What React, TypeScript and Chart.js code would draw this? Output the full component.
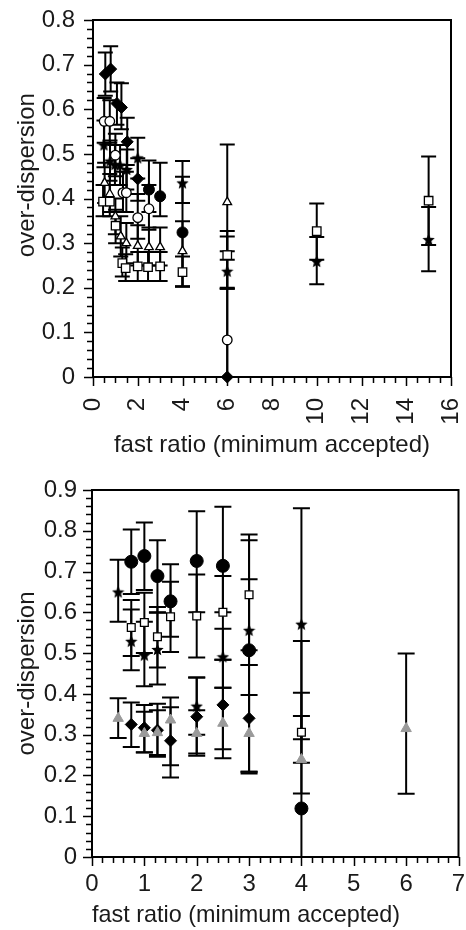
import React, { useEffect, useRef } from 'react';
import { Chart, registerables } from 'chart.js';

Chart.register(...registerables);

// ---------- shared text ----------
const X_TITLE = 'fast ratio (minimum accepted)';
const Y_TITLE = 'over-dispersion';

// ---------- top panel data ----------
const T_DIA_X = [0.55, 0.79, 1.07, 1.27, 1.53, 2.0, 6.0];
const T_DIA_Y = [0.679, 0.69, 0.613, 0.604, 0.527, 0.444, 0.0];
const T_DIA_LO = [0.63, 0.64, 0.565, 0.555, 0.475, 0.395, -0.2];
const T_DIA_HI = [0.727, 0.741, 0.66, 0.658, 0.581, 0.49, 0.2];

const T_OCIR_X = [0.5, 0.75, 1.0, 1.34, 1.49, 2.0, 2.5, 6.0];
const T_OCIR_Y = [0.573, 0.573, 0.497, 0.413, 0.413, 0.357, 0.377, 0.083];
const T_OCIR_LO = [0.525, 0.525, 0.45, 0.37, 0.37, 0.31, 0.33, -0.2];
const T_OCIR_HI = [0.625, 0.62, 0.545, 0.46, 0.46, 0.41, 0.43, 0.315];

const T_STAR_X = [0.49, 0.76, 0.98, 1.21, 1.51, 2.0, 4.0, 6.0, 10.0, 15.0];
const T_STAR_Y = [0.52, 0.484, 0.476, 0.475, 0.465, 0.491, 0.435, 0.237, 0.259, 0.308];
const T_STAR_LO = [0.47, 0.44, 0.43, 0.43, 0.42, 0.445, 0.39, 0.198, 0.208, 0.237];
const T_STAR_HI = [0.575, 0.53, 0.52, 0.52, 0.51, 0.536, 0.484, 0.282, 0.314, 0.381];

const T_CIR_X = [2.5, 3.0, 4.0];
const T_CIR_Y = [0.42, 0.405, 0.324];
const T_CIR_LO = [0.37, 0.36, 0.203];
const T_CIR_HI = [0.485, 0.48, 0.449];

const T_TRI_X = [0.52, 0.75, 1.0, 1.24, 1.49, 2.0, 2.5, 3.0, 4.0, 6.0];
const T_TRI_Y = [0.435, 0.41, 0.36, 0.315, 0.3, 0.294, 0.291, 0.291, 0.282, 0.392];
const T_TRI_LO = [0.39, 0.37, 0.32, 0.27, 0.255, 0.25, 0.25, 0.25, 0.203, 0.263];
const T_TRI_HI = [0.48, 0.455, 0.4, 0.36, 0.345, 0.34, 0.335, 0.335, 0.349, 0.521];

const T_SQ_X = [0.45, 0.75, 1.01, 1.31, 1.46, 2.0, 2.46, 3.0, 4.0, 6.0, 10.0, 15.0];
const T_SQ_Y = [0.393, 0.393, 0.339, 0.255, 0.244, 0.248, 0.246, 0.248, 0.235, 0.273, 0.327, 0.395];
const T_SQ_LO = [0.36, 0.36, 0.3, 0.225, 0.215, 0.215, 0.215, 0.215, 0.203, 0.198, 0.263, 0.296];
const T_SQ_HI = [0.43, 0.43, 0.375, 0.29, 0.275, 0.28, 0.28, 0.28, 0.27, 0.327, 0.389, 0.494];

// ---------- bottom panel data ----------
const B_CIR_X = [0.75, 1, 1.25, 1.5, 2, 2.5, 3, 4];
const B_CIR_Y = [0.724, 0.738, 0.689, 0.627, 0.726, 0.714, 0.507, 0.119];
const B_CIR_LO = [0.645, 0.655, 0.6, 0.54, 0.6, 0.6, 0.209, -0.3];
const B_CIR_HI = [0.803, 0.82, 0.777, 0.718, 0.848, 0.859, 0.791, 0.53];

const B_STAR_X = [0.5, 0.75, 1, 1.25, 2, 2.5, 3, 4];
const B_STAR_Y = [0.65, 0.529, 0.495, 0.509, 0.37, 0.491, 0.556, 0.571];
const B_STAR_LO = [0.577, 0.458, 0.419, 0.423, 0.3, 0.415, 0.471, 0.289];
const B_STAR_HI = [0.729, 0.607, 0.577, 0.599, 0.44, 0.56, 0.681, 0.855];

const B_SQ_X = [0.75, 1, 1.25, 1.5, 2, 2.5, 3, 4];
const B_SQ_Y = [0.563, 0.575, 0.54, 0.589, 0.591, 0.6, 0.643, 0.306];
const B_SQ_LO = [0.493, 0.5, 0.465, 0.503, 0.489, 0.484, 0.507, 0.231];
const B_SQ_HI = [0.63, 0.648, 0.613, 0.675, 0.693, 0.689, 0.777, 0.403];

const B_DIA_X = [0.75, 1, 1.25, 1.5, 2, 2.5, 3];
const B_DIA_Y = [0.325, 0.317, 0.311, 0.285, 0.344, 0.373, 0.34];
const B_DIA_LO = [0.27, 0.257, 0.25, 0.195, 0.254, 0.264, 0.205];
const B_DIA_HI = [0.379, 0.373, 0.376, 0.367, 0.44, 0.484, 0.471];

const B_TRI_X = [0.5, 1, 1.25, 1.5, 2, 2.5, 3, 4, 6];
const B_TRI_Y = [0.34, 0.303, 0.305, 0.336, 0.303, 0.328, 0.303, 0.239, 0.315];
const B_TRI_LO = [0.292, 0.256, 0.246, 0.225, 0.248, 0.242, 0.209, 0.156, 0.155];
const B_TRI_HI = [0.389, 0.356, 0.36, 0.391, 0.36, 0.415, 0.397, 0.346, 0.499];

// ---------- styling ----------
const TXT = '#1a1a1a';
const GRAY = '#9a9a9a';
const FONT = { family: "'Liberation Sans', Arial, Helvetica, sans-serif", size: 24, lineHeight: 1.2 };

function makeStar(size: number, color: string) {
  const c = document.createElement('canvas');
  c.width = size;
  c.height = size;
  const g = c.getContext('2d')!;
  const cx = size / 2, cy = size / 2 + 0.5, R = size / 2, r = R * 0.45;
  g.beginPath();
  for (let i = 0; i < 10; i++) {
    const a = -Math.PI / 2 + (i * Math.PI) / 5;
    const rr = i % 2 ? r : R;
    g.lineTo(cx + rr * Math.cos(a), cy + rr * Math.sin(a));
  }
  g.closePath();
  g.fillStyle = color;
  g.fill();
  return c;
}

function pts(xs: number[], ys: number[]) {
  return xs.map((x, i) => ({ x, y: ys[i] }));
}

const errorPlugin = {
  id: 'errorBars',
  beforeDatasetsDraw(chart: any, _a: any, opts: any) {
    const { ctx, chartArea, scales } = chart;
    const xs = scales.x, ys = scales.y;
    const cw = opts.capWidth || 15;
    ctx.save();
    ctx.beginPath();
    ctx.rect(chartArea.left, chartArea.top - 1, chartArea.right - chartArea.left, chartArea.bottom - chartArea.top + 2);
    ctx.clip();
    ctx.strokeStyle = '#000';
    ctx.lineWidth = 2;
    chart.data.datasets.forEach((ds: any) => {
      if (!ds.errLo) return;
      ds.data.forEach((p: any, i: number) => {
        const x = xs.getPixelForValue(p.x);
        const y1 = ys.getPixelForValue(ds.errLo[i]);
        const y2 = ys.getPixelForValue(ds.errHi[i]);
        ctx.beginPath();
        ctx.moveTo(x, y1);
        ctx.lineTo(x, y2);
        ctx.moveTo(x - cw / 2, y1);
        ctx.lineTo(x + cw / 2, y1);
        ctx.moveTo(x - cw / 2, y2);
        ctx.lineTo(x + cw / 2, y2);
        ctx.stroke();
      });
    });
    ctx.restore();
  },
};

const framePlugin = {
  id: 'frameTicks',
  beforeDatasetsDraw(chart: any, _a: any, o: any) {
    const { ctx, chartArea, scales } = chart;
    const { left, right, top, bottom } = chartArea;
    const xs = scales.x, ys = scales.y;
    ctx.save();
    ctx.strokeStyle = '#000';
    ctx.lineWidth = 1.5;
    ctx.beginPath();
    const isMajor = (v: number, step: number) => Math.abs(v / step - Math.round(v / step)) < 1e-6;
    const nx = Math.round((o.xMax - o.xMin) / o.xMinor);
    for (let i = 0; i <= nx; i++) {
      const v = o.xMin + i * o.xMinor;
      const px = Math.round(xs.getPixelForValue(v)) + 0.5;
      const len = isMajor(v, o.xMajor) ? 9 : 6;
      ctx.moveTo(px, bottom);
      ctx.lineTo(px, bottom + len);
    }
    const ny = Math.round((o.yMax - o.yMin) / o.yMinor);
    for (let i = 0; i <= ny; i++) {
      const v = o.yMin + i * o.yMinor;
      const py = Math.round(ys.getPixelForValue(v)) + 0.5;
      const len = isMajor(v, o.yMajor) ? 9 : 6;
      ctx.moveTo(left, py);
      ctx.lineTo(left - len, py);
    }
    ctx.stroke();
    ctx.lineWidth = 2;
    ctx.strokeRect(left, top, right - left, bottom - top);
    ctx.restore();
  },
};

function series(xs: number[], ys: number[], lo: number[], hi: number[], style: any) {
  return {
    data: pts(xs, ys),
    errLo: lo,
    errHi: hi,
    showLine: false,
    clip: false,
    ...style,
  };
}

function zeroPad(s: any) {
  s.paddingTop = 0;
  s.paddingBottom = 0;
  s.paddingLeft = 0;
  s.paddingRight = 0;
}

function buildConfig(datasets: any[], o: any) {
  return {
    type: 'scatter',
    data: { datasets },
    options: {
      animation: false,
      responsive: false,
      events: [],
      layout: { padding: { top: o.padTop, right: o.padRight, left: 0, bottom: 0 } },
      plugins: {
        legend: { display: false },
        tooltip: { enabled: false },
        errorBars: { capWidth: o.cap },
        frameTicks: {
          xMin: o.xMin, xMax: o.xMax, xMajor: o.xStep, xMinor: o.xMinor,
          yMin: o.yMin, yMax: o.yMax, yMajor: o.yStep, yMinor: o.yMinor,
        },
      },
      scales: {
        x: {
          type: 'linear',
          min: o.xMin,
          max: o.xMax,
          afterFit: (s: any) => { s.height = o.xHeight; zeroPad(s); },
          grid: { display: false, drawTicks: false },
          border: { display: false },
          ticks: {
            stepSize: o.xStep,
            autoSkip: false,
            minRotation: o.xRot,
            maxRotation: o.xRot,
            padding: o.xLabelPad,
            color: TXT,
            font: FONT,
            callback: (v: any) => String(Math.round(Number(v) * 10) / 10),
          },
          title: { display: true, text: X_TITLE + o.xTitleTail, color: TXT, font: FONT, padding: { top: 0, bottom: o.xTitlePad } },
        },
        y: {
          type: 'linear',
          min: o.yMin,
          max: o.yMax,
          afterFit: (s: any) => { s.width = o.yWidth; zeroPad(s); },
          grid: { display: false, drawTicks: false },
          border: { display: false },
          ticks: {
            stepSize: o.yStep,
            padding: o.yLabelPad,
            color: TXT,
            font: FONT,
            callback: (v: any) => {
              const n = Math.round(Number(v) * 10) / 10;
              return n === 0 ? '0' : n.toFixed(1);
            },
          },
          title: { display: true, text: o.yTitleLead + Y_TITLE, color: TXT, font: FONT, padding: { top: o.yTitlePad, bottom: 0 } },
        },
      },
    },
    plugins: [framePlugin, errorPlugin],
  };
}

export default function App() {
  const topRef = useRef<HTMLCanvasElement>(null);
  const botRef = useRef<HTMLCanvasElement>(null);

  useEffect(() => {
    const starTop = makeStar(13, '#000');
    const starBot = makeStar(13, '#000');

    const openStyle = (ps: string, r: number) => ({
      pointStyle: ps, pointRadius: r, pointBackgroundColor: '#fff', pointBorderColor: '#000', pointBorderWidth: 1.3,
    });
    const fillStyle = (ps: any, r: number, c = '#000') => ({
      pointStyle: ps, pointRadius: r, pointBackgroundColor: c, pointBorderColor: c, pointBorderWidth: 1,
    });

    const topSets = [
      series(T_SQ_X, T_SQ_Y, T_SQ_LO, T_SQ_HI, openStyle('rect', 6)),
      series(T_TRI_X, T_TRI_Y, T_TRI_LO, T_TRI_HI, openStyle('triangle', 5)),
      series(T_OCIR_X, T_OCIR_Y, T_OCIR_LO, T_OCIR_HI, openStyle('circle', 4.8)),
      series(T_CIR_X, T_CIR_Y, T_CIR_LO, T_CIR_HI, fillStyle('circle', 5.5)),
      series(T_STAR_X, T_STAR_Y, T_STAR_LO, T_STAR_HI, fillStyle(starTop, 6)),
      series(T_DIA_X, T_DIA_Y, T_DIA_LO, T_DIA_HI, fillStyle('rectRot', 6)),
    ];
    const botSets = [
      series(B_TRI_X, B_TRI_Y, B_TRI_LO, B_TRI_HI, fillStyle('triangle', 6, GRAY)),
      series(B_DIA_X, B_DIA_Y, B_DIA_LO, B_DIA_HI, fillStyle('rectRot', 6)),
      series(B_SQ_X, B_SQ_Y, B_SQ_LO, B_SQ_HI, openStyle('rect', 5.5)),
      series(B_STAR_X, B_STAR_Y, B_STAR_LO, B_STAR_HI, fillStyle(starBot, 6)),
      series(B_CIR_X, B_CIR_Y, B_CIR_LO, B_CIR_HI, fillStyle('circle', 6.5)),
    ];

    const c1 = new Chart(topRef.current!, buildConfig(topSets, {
      padTop: 20, padRight: 15, xHeight: 88, yWidth: 93,
      xMin: 0, xMax: 16, xStep: 2, xMinor: 0.5,
      yMin: 0, yMax: 0.8, yStep: 0.1, yMinor: 0.02,
      xRot: 90, xLabelPad: 21, yLabelPad: 18, xTitlePad: 5.6, yTitlePad: 12.6, cap: 15,
      xTitleTail: '', yTitleLead: '       ',
    }) as any);
    const c2 = new Chart(botRef.current!, buildConfig(botSets, {
      padTop: 25, padRight: 7, xHeight: 73, yWidth: 92,
      xMin: 0, xMax: 7, xStep: 1, xMinor: 0.2,
      yMin: 0, yMax: 0.9, yStep: 0.1, yMinor: 0.02,
      xRot: 0, xLabelPad: 12.6, yLabelPad: 15, xTitlePad: 0.6, yTitlePad: 12.6, cap: 17,
      xTitleTail: '         ', yTitleLead: '',
    }) as any);
    return () => { c1.destroy(); c2.destroy(); };
  }, []);

  return (
    <div style={{ position: 'absolute', left: 0, top: 0, width: 466, height: 930, background: '#fff' }}>
      <canvas ref={topRef} width={466} height={465} style={{ position: 'absolute', left: 0, top: 0, width: 466, height: 465 }} />
      <canvas ref={botRef} width={466} height={465} style={{ position: 'absolute', left: 0, top: 465, width: 466, height: 465 }} />
    </div>
  );
}
